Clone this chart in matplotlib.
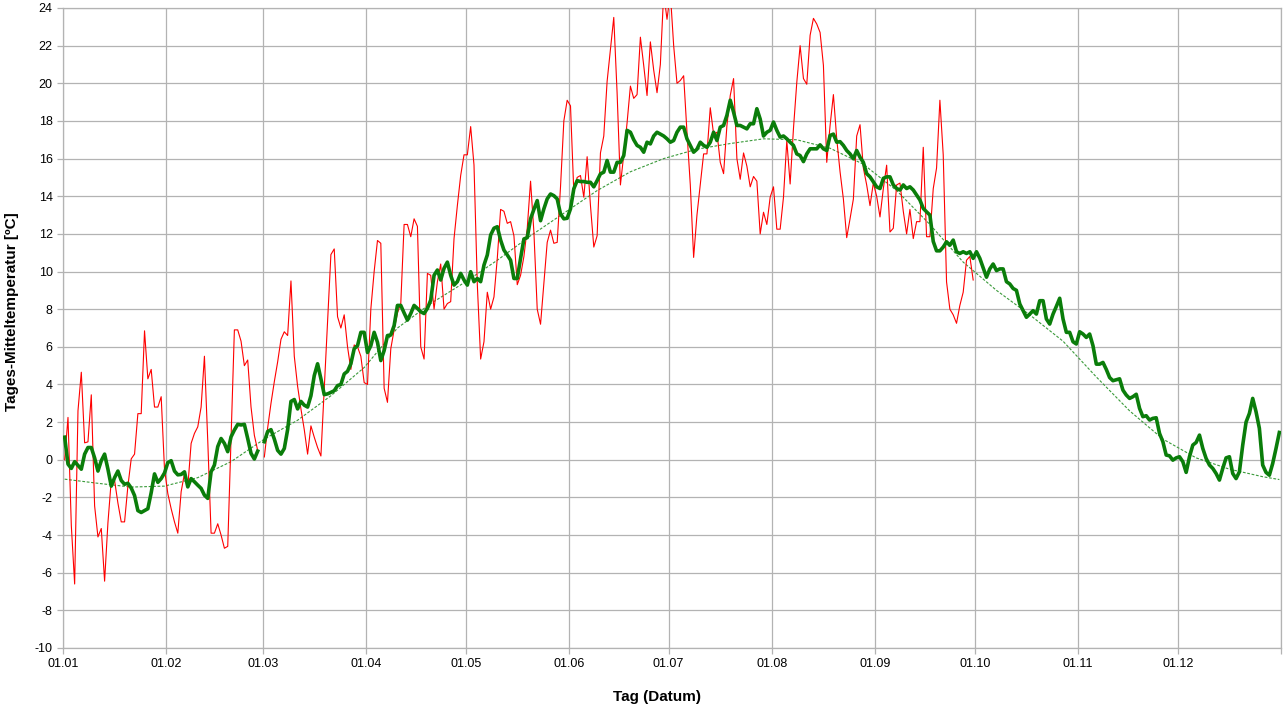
import numpy as np
import matplotlib
matplotlib.use('Agg')
import matplotlib.pyplot as plt

plt.rcParams['font.family'] = ['Liberation Sans', 'DejaVu Sans']
plt.rcParams['axes.unicode_minus'] = False

nan = float('nan')

# daily mean temperature of the year (01.01 - 30.09), 29.02 missing
daily_temp = [
    0.0, 2.25, -3.5, -6.6, 2.6, 4.65, 0.9, 0.95, 3.45, -2.45,
    -4.1, -3.65, -6.45, -3.35, -1.1, -1.1, -2.3, -3.3, -3.3, -1.4,
    0.05, 0.3, 2.45, 2.45, 6.85, 4.3, 4.8, 2.8, 2.8, 3.35,
    -0.5, -1.8, -2.6, -3.3, -3.9, -1.7, -0.73, -1.44, 0.87, 1.4,
    1.75, 2.8, 5.5, 1.0, -3.9, -3.9, -3.4, -4.0, -4.7, -4.6,
    1.1, 6.9, 6.9, 6.3, 5.0, 5.3, 2.8, 1.3, 0.5, nan,
    0.15, 1.7, 3.0, 4.15, 5.2, 6.4, 6.8, 6.6, 9.5, 5.5,
    3.9, 2.7, 1.6, 0.3, 1.8, 1.2, 0.65, 0.2, 3.8, 7.4,
    10.9, 11.2, 7.6, 7.0, 7.7, 6.0, 4.8, 6.1, 6.0, 5.5,
    4.1, 4.0, 8.0, 10.0, 11.65, 11.5, 3.8, 3.05, 5.9, 6.9,
    7.8, 8.3, 12.5, 12.5, 11.85, 12.8, 12.4, 6.0, 5.35, 9.9,
    9.8, 8.0, 9.45, 10.4, 8.0, 8.3, 8.4, 11.75, 13.5, 15.1,
    16.2, 16.2, 17.7, 15.66, 9.3, 5.35, 6.27, 8.9, 8.0, 8.65,
    10.7, 13.3, 13.2, 12.56, 12.65, 11.9, 9.3, 9.8, 10.8, 12.3,
    14.8, 12.1, 8.0, 7.2, 9.4, 11.55, 12.2, 11.5, 11.55, 14.5,
    18.0, 19.1, 18.8, 14.2, 15.0, 15.1, 13.95, 16.1, 13.5, 11.3,
    11.9, 16.3, 17.2, 20.1, 21.8, 23.5, 19.5, 14.6, 16.2, 17.9,
    19.85, 19.2, 19.4, 22.45, 20.95, 19.35, 22.2, 20.7, 19.5, 21.0,
    24.8, 23.4, 24.8, 22.0, 20.0, 20.15, 20.4, 17.4, 14.6, 10.75,
    13.0, 14.6, 16.25, 16.25, 18.7, 17.3, 17.4, 15.8, 15.2, 17.75,
    19.35, 20.25, 16.0, 14.9, 16.3, 15.6, 14.5, 15.05, 14.8, 12.0,
    13.15, 12.5, 13.95, 14.5, 12.25, 12.25, 13.95, 16.95, 14.65, 17.6,
    20.05, 22.0, 20.25, 19.95, 22.55, 23.45, 23.15, 22.7, 20.95, 15.8,
    17.75, 19.4, 17.05, 15.3, 13.85, 11.8, 12.8, 13.85, 17.2, 17.8,
    15.5, 14.6, 13.5, 14.7, 14.0, 12.9, 14.4, 15.65, 12.1, 12.3,
    14.6, 14.7, 13.2, 12.0, 13.3, 11.75, 12.65, 12.65, 16.6, 11.85,
    11.85, 14.4, 15.5, 19.1, 16.2, 9.45, 8.0, 7.7, 7.25, 8.2,
    8.9, 10.6, 10.8, 9.55,
]

# long term mean (running mean), whole year
mean_temp = [
    1.2, -0.23, -0.46, -0.1, -0.3, -0.5, 0.3, 0.65, 0.65, 0.1,
    -0.6, -0.05, 0.3, -0.5, -1.4, -0.95, -0.6, -1.1, -1.3, -1.25,
    -1.5, -1.9, -2.7, -2.8, -2.7, -2.6, -1.75, -0.75, -1.2, -1.0,
    -0.7, -0.15, -0.05, -0.6, -0.8, -0.78, -0.64, -1.44, -1.0, -1.17,
    -1.35, -1.52, -1.88, -2.05, -0.64, -0.28, 0.7, 1.13, 0.87, 0.43,
    1.22, 1.58, 1.88, 1.85, 1.88, 1.13, 0.34, 0.04, 0.46, nan,
    0.96, 1.5, 1.6, 1.1, 0.5, 0.3, 0.6, 1.6, 3.1, 3.2,
    2.7, 3.1, 2.9, 2.8, 3.4, 4.47, 5.1, 4.3, 3.46, 3.5,
    3.58, 3.67, 3.94, 4.0, 4.56, 4.7, 5.1, 5.9, 6.06, 6.77,
    6.77, 5.7, 6.06, 6.77, 6.24, 5.27, 5.8, 6.6, 6.63, 7.13,
    8.2, 8.2, 7.8, 7.42, 7.77, 8.2, 8.04, 7.86, 7.77, 8.04,
    8.48, 9.8, 10.08, 9.55, 10.17, 10.5, 9.8, 9.28, 9.46, 9.9,
    9.55, 9.28, 9.99, 9.46, 9.63, 9.46, 10.34, 10.88, 11.94, 12.3,
    12.38, 11.67, 11.14, 10.88, 10.6, 9.63, 9.63, 10.7, 11.73, 11.8,
    12.8, 13.3, 13.77, 12.7, 13.33, 13.86, 14.12, 14.03, 13.86, 13.06,
    12.8, 12.83, 13.33, 14.4, 14.83, 14.78, 14.78, 14.74, 14.74, 14.5,
    14.83, 15.19, 15.28, 15.9, 15.28, 15.28, 15.8, 15.8, 16.16, 17.5,
    17.4, 17.0, 16.7, 16.6, 16.34, 16.87, 16.78, 17.2, 17.4, 17.3,
    17.2, 17.05, 16.87, 16.96, 17.4, 17.67, 17.67, 17.05, 16.7, 16.34,
    16.5, 16.87, 16.7, 16.6, 16.87, 17.4, 16.96, 17.67, 17.76, 18.3,
    19.1, 18.47, 17.76, 17.76, 17.67, 17.58, 17.85, 17.85, 18.65, 18.1,
    17.2, 17.4, 17.5, 17.94, 17.5, 17.14, 17.2, 17.05, 16.87, 16.7,
    16.25, 16.16, 15.84, 16.25, 16.52, 16.52, 16.52, 16.73, 16.52, 16.43,
    17.23, 17.3, 16.87, 16.9, 16.7, 16.43, 16.25, 15.99, 16.43, 16.07,
    15.8, 15.2, 15.03, 14.77, 14.5, 14.41, 14.95, 15.03, 15.03, 14.6,
    14.41, 14.33, 14.6, 14.41, 14.5, 14.33, 14.06, 13.8, 13.35, 13.17,
    13.0, 11.6, 11.1, 11.1, 11.3, 11.58, 11.4, 11.67, 11.05, 10.96,
    11.05, 10.96, 11.05, 10.7, 11.05, 10.7, 10.2, 9.7, 10.14, 10.4,
    10.05, 10.14, 10.14, 9.46, 9.34, 9.1, 9.0, 8.28, 7.92, 7.57,
    7.74, 7.92, 7.74, 8.45, 8.45, 7.48, 7.21, 7.74, 8.15, 8.58,
    7.48, 6.77, 6.77, 6.27, 6.15, 6.8, 6.68, 6.5, 6.68, 6.06,
    5.08, 5.08, 5.17, 4.8, 4.37, 4.2, 4.25, 4.3, 3.7, 3.44,
    3.26, 3.35, 3.48, 2.73, 2.29, 2.34, 2.11, 2.2, 2.23, 1.4,
    0.96, 0.25, 0.21, -0.02, 0.1, 0.16, -0.1, -0.67, 0.16, 0.78,
    0.92, 1.31, 0.6, 0.07, -0.28, -0.46, -0.73, -1.08, -0.46, 0.1,
    0.16, -0.73, -1.0, -0.64, 0.78, 2.0, 2.46, 3.26, 2.55, 1.67,
    -0.28, -0.67, -0.82, -0.2, 0.6, 1.45,
]

# smooth trend curve (read every 10 days)
trend_day = [0, 10, 20, 30, 40, 50, 60, 70, 80, 90, 100, 110, 120, 130,
             140, 150, 160, 170, 180, 190, 200, 210, 220, 230, 240, 250,
             260, 270, 280, 290, 300, 310, 320, 330, 340, 350, 360, 365]
trend_temp = [-1.03, -1.25, -1.45, -1.4, -0.95, -0.1, 1.1, 2.1, 3.4, 4.9,
              7.0, 8.3, 9.4, 10.6, 11.9, 13.1, 14.3, 15.3, 16.0, 16.5,
              16.8, 17.05, 17.0, 16.55, 15.7, 14.3, 12.5, 10.5, 9.0, 7.7,
              6.3, 4.4, 2.6, 1.1, 0.1, -0.5, -0.9, -1.05]

# month starts (leap year) and labels
month_start = [0, 31, 60, 91, 121, 152, 182, 213, 244, 274, 305, 335]
month_labels = ['01.01', '01.02', '01.03', '01.04', '01.05', '01.06',
                '01.07', '01.08', '01.09', '01.10', '01.11', '01.12']

# create figure
fig = plt.figure(figsize=(12.86, 7.10), dpi=100)
ax = fig.add_axes([63 / 1286, 1 - 648 / 710, 1218 / 1286, 640 / 710])

# points sit in the middle of each day
x_daily = np.arange(len(daily_temp)) + 0.5
x_mean = np.arange(len(mean_temp)) + 0.5
x_trend = np.array(trend_day) + 0.5

ax.plot(x_trend, trend_temp, color='#3a9a3a', linewidth=0.8,
        linestyle=(0, (2.5, 1.5)), zorder=3)
ax.plot(x_daily, daily_temp, color='#ff0000', linewidth=0.8, zorder=4)
ax.plot(x_mean, mean_temp, color='#0a7d0a', linewidth=2.6, zorder=5)

# axes and grid
ax.set_xlim(0, 366)
ax.set_ylim(-10, 24)
ax.set_yticks(np.arange(-10, 25, 2))
ax.set_xticks(month_start + [366])
ax.set_xticklabels(month_labels + [''])
ax.grid(True, color='#b3b3b3', linewidth=0.9)
ax.set_axisbelow(True)
for side in ['top', 'right', 'left', 'bottom']:
    ax.spines[side].set_color('#b3b3b3')
    ax.spines[side].set_linewidth(0.9)
ax.tick_params(axis='both', colors='#b3b3b3', labelcolor='black',
               labelsize=9, length=4, width=0.9)

# labels
ax.set_xlabel('Tag (Datum)', fontsize=11, fontweight='bold')
ax.xaxis.set_label_coords(0.4877, -0.066)
ax.set_ylabel('Tages-Mitteltemperatur [ºC]', fontsize=11, fontweight='bold')
ax.yaxis.set_label_coords(-0.036, 0.525)

# save plot
plt.savefig('out.png', dpi=100)
